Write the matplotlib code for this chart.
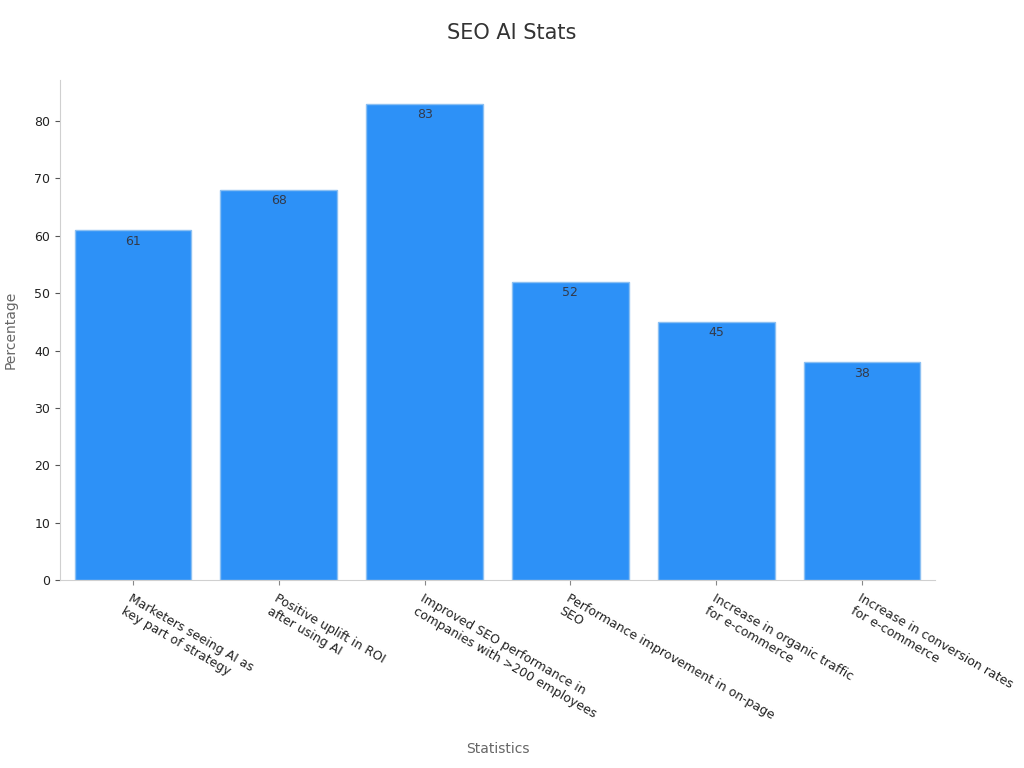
import matplotlib.pyplot as plt
import numpy as np

categories = [
    'Marketers seeing AI as\nkey part of strategy',
    'Positive uplift in ROI\nafter using AI',
    'Improved SEO performance in\ncompanies with >200 employees',
    'Performance improvement in on-page\nSEO',
    'Increase in organic traffic\nfor e-commerce',
    'Increase in conversion rates\nfor e-commerce',
]
values = [61, 68, 83, 52, 45, 38]

fig = plt.figure(figsize=(10.24, 7.68), dpi=100)
ax = fig.add_axes([0.0586, 0.2448, 0.8545, 0.651])

x = np.arange(len(values))
bars = ax.bar(x, values, width=0.8, color='#2d91f7', edgecolor='#8cc0f2', linewidth=1)
for xi, v in zip(x, values):
    ax.text(xi, v - 0.8, str(v), ha='center', va='top', fontsize=9, color='#333a4a')

ax.set_xlim(-0.5, 5.5)
ax.set_ylim(0, 87.15)
ax.set_xticks(x)
ax.set_xticklabels(categories, rotation=-30, ha='left', va='top',
                   rotation_mode='anchor', fontsize=9, color='#222222')
ax.tick_params(axis='y', labelsize=9, labelcolor='#222222', color='#555555')
ax.tick_params(axis='x', color='#888888', pad=5)

for s in ['top', 'right']:
    ax.spines[s].set_visible(False)
for s in ['left', 'bottom']:
    ax.spines[s].set_color('#d0d0d0')

ax.set_ylabel('Percentage', fontsize=10, color='#666666', labelpad=12)
ax.set_xlabel('Statistics', fontsize=10, color='#666666')
ax.xaxis.set_label_coords(0.5, -0.325)
fig.text(0.5, 0.957, 'SEO AI Stats', ha='center', va='center', fontsize=15, color='#333333')

fig.savefig('out.png', dpi=100)
